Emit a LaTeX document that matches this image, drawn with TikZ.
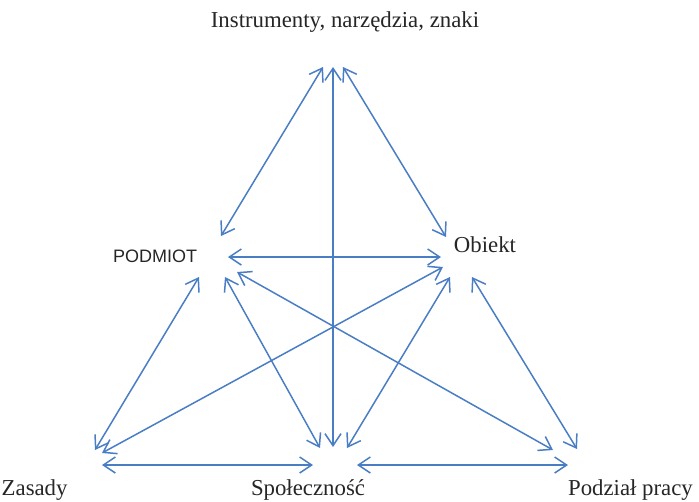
\documentclass[tikz,border=0pt]{standalone}
\usepackage{fontspec}
\setmainfont{Liberation Serif}
\newfontfamily\arialfont{Liberation Sans}
\usetikzlibrary{arrows.meta}
\definecolor{linkblue}{HTML}{4A7EC4}
\tikzset{
  link/.style={draw=linkblue, line width=1.5pt, {Straight Barb[length=12pt,width=16pt]}-{Straight Barb[length=12pt,width=16pt]}},
  serlabel/.style={inner sep=0pt, anchor=base, font=\fontsize{22.8}{25}\selectfont, text=black!85},
  sanlabel/.style={inner sep=0pt, anchor=base, font=\arialfont\fontsize{18}{20}\selectfont, text=black!85}
}
\begin{document}
\begin{tikzpicture}[x=1pt,y=-1pt]
\useasboundingbox (0,0) rectangle (699,501);
% labels
\node[serlabel] (instr) at (345,27) {Instrumenty, narzędzia, znaki};
\node[sanlabel] (podmiot) at (155,262) {PODMIOT};
\node[serlabel] (obiekt) at (485,252) {Obiekt};
\node[serlabel, anchor=base west] (zasady) at (1.5,495) {Zasady};
\node[serlabel] (spol) at (308,495) {Społeczność};
\node[serlabel, anchor=base east] (podzial) at (693,495) {Podział pracy};
% endpoints
\coordinate (iL) at (323,67);
\coordinate (iM) at (333,67);
\coordinate (iR) at (343,67);
\coordinate (pT) at (221,236);
\coordinate (pR) at (228,257);
\coordinate (pB1) at (199,277);
\coordinate (pB2) at (225,277);
\coordinate (pB3) at (237,272);
\coordinate (oT) at (446,237);
\coordinate (oL) at (441,257);
\coordinate (oB1) at (443,267);
\coordinate (oB2) at (450,277);
\coordinate (oB3) at (472,277);
\coordinate (zT1) at (95,450);
\coordinate (zT2) at (102,453);
\coordinate (zR) at (102,465);
\coordinate (sT1) at (320,448);
\coordinate (sT2) at (333,447);
\coordinate (sT3) at (347,448);
\coordinate (sL) at (313,465);
\coordinate (sR) at (357,465);
\coordinate (dT1) at (553,450);
\coordinate (dT2) at (577,449);
\coordinate (dL) at (568,465);
% connectors
\draw[link] (iL) -- (pT);
\draw[link] (iM) -- (sT2);
\draw[link] (iR) -- (oT);
\draw[link] (pR) -- (oL);
\draw[link] (pB1) -- (zT1);
\draw[link] (oB1) -- (zT2);
\draw[link] (pB2) -- (sT1);
\draw[link] (pB3) -- (dT1);
\draw[link] (oB2) -- (sT3);
\draw[link] (oB3) -- (dT2);
\draw[link] (zR) -- (sL);
\draw[link] (sR) -- (dL);
\end{tikzpicture}
\end{document}
